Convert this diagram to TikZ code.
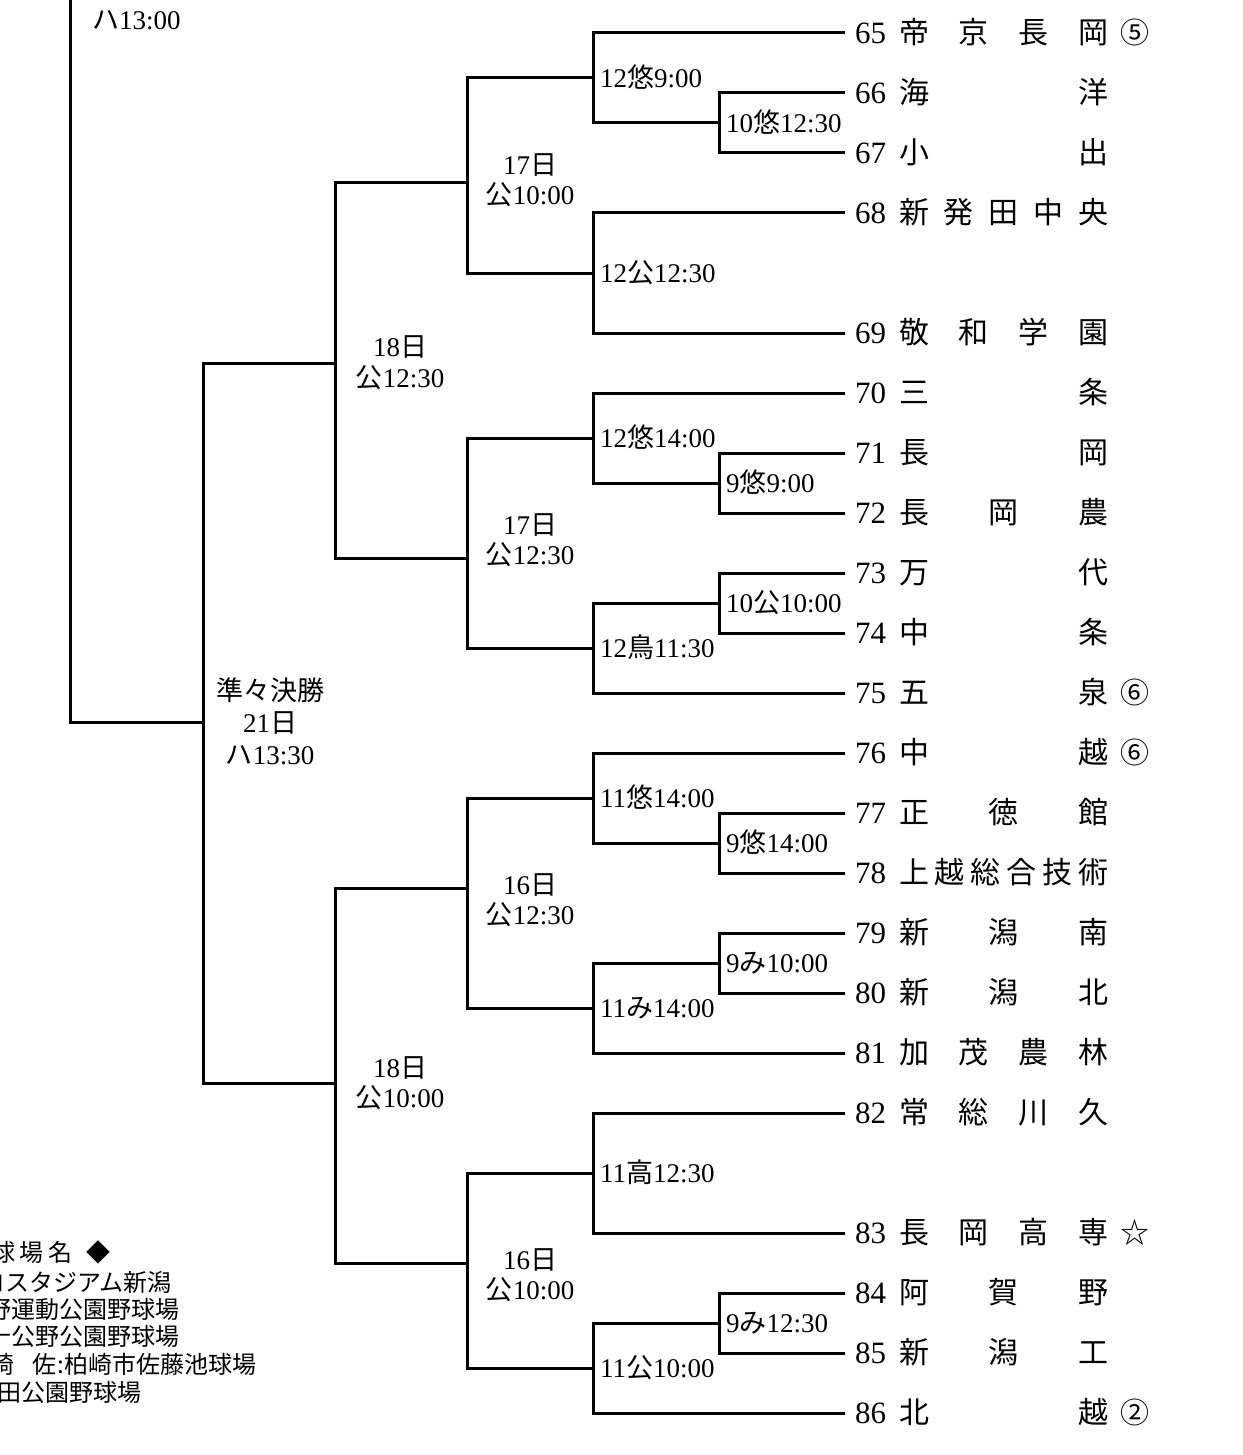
\documentclass[tikz,border=0pt]{standalone}
\usepackage{fontspec}
\setmainfont{Liberation Serif}
\newfontfamily\cjk{Noto Sans CJK JP}
\tikzset{
  ln/.style={line width=3pt},
  num/.style={inner sep=0pt, text height=22.6pt, text depth=0.9pt, anchor=west, inner xsep=10pt, font=\fontsize{31}{31}\selectfont},
  tch/.style={inner sep=0pt, text height=21.9pt, text depth=0.9pt, font=\cjk\fontsize{30}{30}\selectfont},
  seed/.style={inner sep=0pt, text height=21.2pt, text depth=0.9pt, font=\cjk\fontsize{29}{29}\selectfont},
  rlab/.style={inner sep=0pt, text height=19.7pt, text depth=0.8pt, anchor=west, font=\fontsize{27}{27}\selectfont},
  dlab/.style={inner sep=0pt, text height=19.7pt, text depth=0.8pt, font=\fontsize{27}{27}\selectfont},
  leg/.style={inner sep=0pt, text height=17.5pt, text depth=0.7pt, anchor=east, font=\cjk\fontsize{24}{24}\selectfont},
}
\newcommand\teamrow[4]{%
  \node[num] (n#1) at (845,#2) {#1};
  \foreach \c [count=\i] in {#4} {
    \node[tch] (t#1-\i) at ({914+(\i-1)*179/(#3-1)},#2) {\c};
  }
}
\begin{document}
\begin{tikzpicture}[x=1pt,y=-1pt]
\useasboundingbox (0,0) rectangle (1242,1455);
% teams
\teamrow{65}{33}{4}{帝,京,長,岡}
\teamrow{66}{93}{2}{海,洋}
\teamrow{67}{153}{2}{小,出}
\teamrow{68}{213}{5}{新,発,田,中,央}
\teamrow{69}{333}{4}{敬,和,学,園}
\teamrow{70}{393}{2}{三,条}
\teamrow{71}{453}{2}{長,岡}
\teamrow{72}{513}{3}{長,岡,農}
\teamrow{73}{573}{2}{万,代}
\teamrow{74}{633}{2}{中,条}
\teamrow{75}{693}{2}{五,泉}
\teamrow{76}{753}{2}{中,越}
\teamrow{77}{813}{3}{正,徳,館}
\teamrow{78}{873}{6}{上,越,総,合,技,術}
\teamrow{79}{933}{3}{新,潟,南}
\teamrow{80}{993}{3}{新,潟,北}
\teamrow{81}{1053}{4}{加,茂,農,林}
\teamrow{82}{1113}{4}{常,総,川,久}
\teamrow{83}{1233}{4}{長,岡,高,専}
\teamrow{84}{1293}{3}{阿,賀,野}
\teamrow{85}{1353}{3}{新,潟,工}
\teamrow{86}{1413}{2}{北,越}
\node[seed] (s65) at (1135,33) {⑤};
\node[seed] (s75) at (1135,693) {⑥};
\node[seed] (s76) at (1135,753) {⑥};
\node[seed] (s83) at (1135,1233) {☆};
\node[seed] (s86) at (1135,1413) {②};
% junctions
\coordinate (a1) at (719,123);
\coordinate (a2) at (593,78);
\coordinate (a3) at (593,273);
\coordinate (b1) at (467,183);
\coordinate (a4) at (719,483);
\coordinate (a5) at (593,438);
\coordinate (a6) at (719,603);
\coordinate (a7) at (593,648);
\coordinate (b2) at (467,558);
\coordinate (c1) at (335,363);
\coordinate (a8) at (719,843);
\coordinate (a9) at (593,798);
\coordinate (a10) at (719,963);
\coordinate (a11) at (593,1008);
\coordinate (b3) at (467,888);
\coordinate (a12) at (593,1173);
\coordinate (a13) at (719,1323);
\coordinate (a14) at (593,1368);
\coordinate (b4) at (467,1263);
\coordinate (c2) at (335,1083);
\coordinate (qf) at (203,722);
\coordinate (r) at (70,722);
\coordinate (top) at (70,-5);
% brackets
\draw[ln] (n66.west) -| (a1) |- (n67.west);
\draw[ln] (n65.west) -| (a2) |- (a1);
\draw[ln] (n68.west) -| (a3) |- (n69.west);
\draw[ln] (a2) -| (b1) |- (a3);
\draw[ln] (n71.west) -| (a4) |- (n72.west);
\draw[ln] (n70.west) -| (a5) |- (a4);
\draw[ln] (n73.west) -| (a6) |- (n74.west);
\draw[ln] (a6) -| (a7) |- (n75.west);
\draw[ln] (a5) -| (b2) |- (a7);
\draw[ln] (b1) -| (c1) |- (b2);
\draw[ln] (n77.west) -| (a8) |- (n78.west);
\draw[ln] (n76.west) -| (a9) |- (a8);
\draw[ln] (n79.west) -| (a10) |- (n80.west);
\draw[ln] (a10) -| (a11) |- (n81.west);
\draw[ln] (a9) -| (b3) |- (a11);
\draw[ln] (n82.west) -| (a12) |- (n83.west);
\draw[ln] (n84.west) -| (a13) |- (n85.west);
\draw[ln] (a13) -| (a14) |- (n86.west);
\draw[ln] (a12) -| (b4) |- (a14);
\draw[ln] (b3) -| (c2) |- (b4);
\draw[ln] (c1) -| (qf) |- (c2);
\draw[ln] (qf) -- (r) -- (top);
% round labels
\node[rlab] (l2) at (600,78) {12{\cjk 悠}9:00};
\node[rlab] (l1) at (726,123) {10{\cjk 悠}12:30};
\node[rlab] (l3) at (600,273) {12{\cjk 公}12:30};
\node[rlab] (l5) at (600,438) {12{\cjk 悠}14:00};
\node[rlab] (l4) at (726,483) {9{\cjk 悠}9:00};
\node[rlab] (l6) at (726,603) {10{\cjk 公}10:00};
\node[rlab] (l7) at (600,648) {12{\cjk 鳥}11:30};
\node[rlab] (l9) at (600,798) {11{\cjk 悠}14:00};
\node[rlab] (l8) at (726,843) {9{\cjk 悠}14:00};
\node[rlab] (l10) at (726,963) {9{\cjk み}10:00};
\node[rlab] (l11) at (600,1008) {11{\cjk み}14:00};
\node[rlab] (l12) at (600,1173) {11{\cjk 高}12:30};
\node[rlab] (l13) at (726,1323) {9{\cjk み}12:30};
\node[rlab] (l14) at (600,1368) {11{\cjk 公}10:00};
% day labels
\node[dlab] (d1a) at (530,165) {17{\cjk 日}};
\node[dlab] (d1b) at (530,195) {{\cjk 公}10:00};
\node[dlab] (d2a) at (530,525) {17{\cjk 日}};
\node[dlab] (d2b) at (530,555) {{\cjk 公}12:30};
\node[dlab] (d3a) at (400,347) {18{\cjk 日}};
\node[dlab] (d3b) at (400,378) {{\cjk 公}12:30};
\node[dlab] (d4a) at (530,885) {16{\cjk 日}};
\node[dlab] (d4b) at (530,915) {{\cjk 公}12:30};
\node[dlab] (d5a) at (400,1068) {18{\cjk 日}};
\node[dlab] (d5b) at (400,1098) {{\cjk 公}10:00};
\node[dlab] (d6a) at (530,1260) {16{\cjk 日}};
\node[dlab] (d6b) at (530,1290) {{\cjk 公}10:00};
\node[dlab] (q1) at (270,691) {{\cjk 準々決勝}};
\node[dlab] (q2) at (270,723) {21{\cjk 日}};
\node[dlab] (q3) at (270,755) {{\cjk ハ}13:30};
\node[rlab] (fin) at (92,20) {{\cjk ハ}13:00};
% legend
\node[leg, anchor=west] (g1) at (-9,1253) {球\hspace{4pt}場\hspace{5pt}名\hspace{14pt}◆};
\node[leg] (g2) at (172,1283) {コスタジアム新潟};
\node[leg] (g3) at (180,1310) {野運動公園野球場};
\node[leg] (g4) at (180,1337) {十公野公園野球場};
\node[leg] (g5) at (257,1365) {崎\hspace{18pt}佐\hspace{1pt}:\hspace{1pt}柏崎市佐藤池球場};
\node[leg] (g6) at (142,1393) {田公園野球場};
\end{tikzpicture}
\end{document}
